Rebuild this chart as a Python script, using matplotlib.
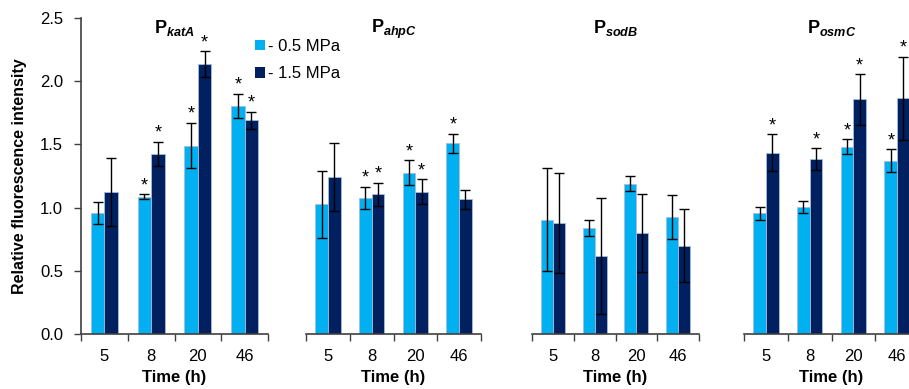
import matplotlib
matplotlib.use("Agg")
import matplotlib.pyplot as plt
from matplotlib.patches import Patch
import numpy as np

plt.rcParams['font.family'] = ['Liberation Sans', 'DejaVu Sans']
plt.rcParams['mathtext.fontset'] = 'custom'
plt.rcParams['mathtext.rm'] = 'Liberation Sans'
plt.rcParams['mathtext.bf'] = 'Liberation Sans:bold'
plt.rcParams['mathtext.it'] = 'Liberation Sans:italic'
plt.rcParams['mathtext.bfit'] = 'Liberation Sans:bold:italic'

times = ['5', '8', '20', '46']
promoters = ['katA', 'ahpC', 'sodB', 'osmC']
series_labels = ['- 0.5 MPa', '- 1.5 MPa']

# mean values per promoter: [0.5 MPa series, 1.5 MPa series]
katA_05 = [0.955, 1.085, 1.49, 1.805]
katA_15 = [1.125, 1.425, 2.135, 1.69]
ahpC_05 = [1.025, 1.075, 1.275, 1.51]
ahpC_15 = [1.24, 1.105, 1.125, 1.065]
sodB_05 = [0.905, 0.84, 1.19, 0.925]
sodB_15 = [0.88, 0.615, 0.80, 0.70]
osmC_05 = [0.955, 1.005, 1.482, 1.37]
osmC_15 = [1.435, 1.385, 1.857, 1.865]

# error bars
katA_05_err = [0.088, 0.02, 0.18, 0.095]
katA_15_err = [0.27, 0.095, 0.10, 0.07]
ahpC_05_err = [0.265, 0.09, 0.10, 0.075]
ahpC_15_err = [0.27, 0.09, 0.10, 0.075]
sodB_05_err = [0.405, 0.063, 0.057, 0.175]
sodB_15_err = [0.395, 0.46, 0.31, 0.29]
osmC_05_err = [0.05, 0.05, 0.06, 0.09]
osmC_15_err = [0.145, 0.085, 0.20, 0.33]

# significance marks (1 = asterisk)
katA_05_sig = [0, 1, 1, 1]
katA_15_sig = [0, 1, 1, 1]
ahpC_05_sig = [0, 1, 1, 1]
ahpC_15_sig = [0, 1, 1, 0]
sodB_05_sig = [0, 0, 0, 0]
sodB_15_sig = [0, 0, 0, 0]
osmC_05_sig = [0, 0, 1, 1]
osmC_15_sig = [1, 1, 1, 1]

data = {
    'katA': (katA_05, katA_15, katA_05_err, katA_15_err, katA_05_sig, katA_15_sig),
    'ahpC': (ahpC_05, ahpC_15, ahpC_05_err, ahpC_15_err, ahpC_05_sig, ahpC_15_sig),
    'sodB': (sodB_05, sodB_15, sodB_05_err, sodB_15_err, sodB_05_sig, sodB_15_sig),
    'osmC': (osmC_05, osmC_15, osmC_05_err, osmC_15_err, osmC_05_sig, osmC_15_sig),
}

c_light = '#00B0F0'
c_dark = '#002060'
edge = '#a8bcd8'
spine_c = '#404040'

W, H = 909, 389
fig = plt.figure(figsize=(W / 100, H / 100), dpi=100)

# panel pixel extents (left, right)
panels_px = [(81, 268), (306, 481), (532, 699), (744, 919)]
bottom_px, top_px = 334, 18

bw = 0.29
for k, (prom, (lx, rx)) in enumerate(zip(promoters, panels_px)):
    ax = fig.add_axes([lx / W, (H - bottom_px) / H, (rx - lx) / W, (bottom_px - top_px) / H])
    m05, m15, e05, e15, s05, s15 = data[prom]
    x = np.arange(len(times)) + 0.5
    ekw = dict(ecolor='black', elinewidth=1.0, capsize=3.5, capthick=1.0)
    ax.bar(x - bw / 2, m05, bw, color=c_light, edgecolor=edge, linewidth=0.6,
           yerr=e05, error_kw=ekw, label=series_labels[0], zorder=2)
    ax.bar(x + bw / 2, m15, bw, color=c_dark, edgecolor=edge, linewidth=0.6,
           yerr=e15, error_kw=ekw, label=series_labels[1], zorder=2)
    for i in range(len(times)):
        if s05[i]:
            ax.text(x[i] - bw / 2, m05[i] + e05[i], '*', ha='center', va='bottom',
                    fontsize=13, zorder=3)
        if s15[i]:
            ax.text(x[i] + bw / 2, m15[i] + e15[i], '*', ha='center', va='bottom',
                    fontsize=13, zorder=3)
    ax.set_xlim(0, 4)
    ax.set_ylim(0, 2.5)
    ax.set_xticks(np.arange(0, 5))
    ax.set_xticklabels([])
    ax.set_xticks(x, minor=True)
    ax.set_xticklabels(times, minor=True, fontsize=12)
    ax.tick_params(axis='x', which='major', direction='out', length=5, width=1, color=spine_c)
    ax.tick_params(axis='x', which='minor', length=0, pad=11)
    for s in ['top', 'right']:
        ax.spines[s].set_visible(False)
    ax.spines['bottom'].set_color(spine_c)
    ax.spines['bottom'].set_linewidth(1.2)
    if k == 0:
        ax.spines['left'].set_color(spine_c)
        ax.spines['left'].set_linewidth(1.2)
        ax.set_yticks(np.arange(0, 2.51, 0.5))
        ax.set_yticklabels([f'{v:.1f}' for v in np.arange(0, 2.51, 0.5)], fontsize=12)
        ax.tick_params(axis='y', direction='out', length=5, width=1, color=spine_c, pad=8)
        ax.set_ylabel('Relative fluorescence intensity', fontsize=11.5, fontweight='bold', labelpad=9)
    else:
        ax.spines['left'].set_visible(False)
        ax.set_yticks([])
    ax.set_xlabel('Time (h)', fontsize=12, fontweight='bold', labelpad=4)
    ax.text(0.5, 1.0, r'$\mathbf{P}_{\mathbfit{' + prom + '}}$', transform=ax.transAxes,
            ha='center', va='top', fontsize=13)

handles = [Patch(facecolor=c_light, edgecolor='none'), Patch(facecolor=c_dark, edgecolor='none')]
fig.legend(handles, series_labels, loc='upper left', bbox_to_anchor=(248 / W, 1 - 32 / H),
           frameon=False, fontsize=12, handlelength=0.6, handleheight=0.6,
           handletextpad=0.2, labelspacing=0.75, borderaxespad=0)

fig.savefig('out.png', dpi=100)
